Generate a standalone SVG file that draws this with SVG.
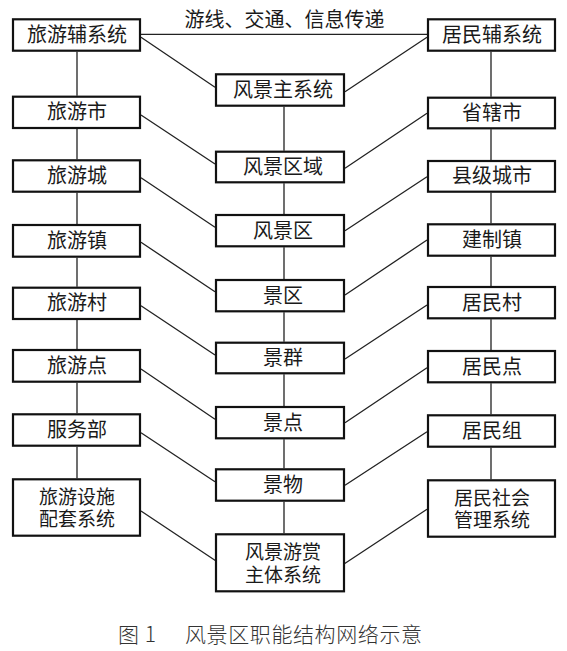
<svg xmlns="http://www.w3.org/2000/svg" width="567" height="651" viewBox="0 0 567 651">
<style>
.box{fill:#fff;stroke:#111;stroke-width:2.2}
.lbl{font-family:"Noto Sans CJK SC","Liberation Sans",sans-serif;font-size:20px;fill:#1a1a1a;text-anchor:middle}
.lb2{font-family:"Noto Sans CJK SC","Liberation Sans",sans-serif;font-size:19px;fill:#1a1a1a;text-anchor:middle}
.ln{stroke:#222;stroke-width:1.3;fill:none}
.ttl{font-family:"Noto Sans CJK SC","Liberation Sans",sans-serif;font-size:20px;fill:#1a1a1a;text-anchor:middle}
.cap{font-family:"Noto Sans CJK SC","Liberation Sans",sans-serif;font-size:21px;font-weight:300;fill:#333;letter-spacing:0.6px}
</style>
<rect width="567" height="651" fill="#fff"/>
<g id="connectors">
<path class="ln" d="M141 34.3H427"/>
<path class="ln" d="M141 37.3L215 87.3M427 37.3L345 91.7"/>
<path class="ln" d="M141 115L215 164M427 113.3L345 168.3"/>
<path class="ln" d="M141 177.7L215 227.3M427 176.7L345 230.7"/>
<path class="ln" d="M141 242.3L215 291.7M427 240L345 295"/>
<path class="ln" d="M141 305.7L215 355M427 305L345 359"/>
<path class="ln" d="M141 369L215 419.3M427 367.7L345 422.7"/>
<path class="ln" d="M141 432.7L215 481.7M427 431.7L345 485.3"/>
<path class="ln" d="M141 511L215.7 560.7M427 509.3L344 564"/>
<path class="ln" d="M77 51.7V95.7M77 129V159.3M77 192.7V224M77 257.7V286.7M77 320V349M77 382.7V413.3M77 446.7V478.3"/>
<path class="ln" d="M284 106.7V150.7M284 183.3V214M284 247.3V279M284 312.3V341.7M284 374.3V406M284 439.3V468.3M284 501.7V533.3"/>
<path class="ln" d="M491 51.7V96.7M491 129.3V160M491 192.7V223.3M491 256.7V286M491 319.3V350M491 383.3V414.3M491 447.7V479.3"/>
</g>
<text class="ttl" x="284.5" y="26.5">游线、交通、信息传递</text>
<g id="n_l1"><rect class="box" x="13" y="19.3" width="127" height="31.4"/><text class="lbl" x="77" y="42">旅游辅系统</text></g>
<g id="n_l2"><rect class="box" x="13" y="96.7" width="127" height="31.3"/><text class="lbl" x="77" y="119.4">旅游市</text></g>
<g id="n_l3"><rect class="box" x="13" y="160.3" width="127" height="31.4"/><text class="lbl" x="77" y="183">旅游城</text></g>
<g id="n_l4"><rect class="box" x="13" y="225" width="127" height="31.7"/><text class="lbl" x="77" y="247.8">旅游镇</text></g>
<g id="n_l5"><rect class="box" x="13" y="287.7" width="127" height="31.3"/><text class="lbl" x="77" y="310.4">旅游村</text></g>
<g id="n_l6"><rect class="box" x="13" y="350" width="127" height="31.7"/><text class="lbl" x="77" y="372.8">旅游点</text></g>
<g id="n_l7"><rect class="box" x="13" y="414.3" width="127" height="31.4"/><text class="lbl" x="77" y="437">服务部</text></g>
<g id="n_l8"><rect class="box" x="13" y="479.3" width="127" height="56.4"/><text class="lb2" x="77" y="503.5"><tspan x="77">旅游设施</tspan><tspan x="77" dy="22.5">配套系统</tspan></text></g>
<g id="n_c1"><rect class="box" x="216" y="74.3" width="128" height="31.4"/><text class="lbl" x="283" y="97">风景主系统</text></g>
<g id="n_c2"><rect class="box" x="216" y="151.7" width="128" height="30.6"/><text class="lbl" x="283" y="174">风景区域</text></g>
<g id="n_c3"><rect class="box" x="216" y="215" width="128" height="31.3"/><text class="lbl" x="283" y="237.7">风景区</text></g>
<g id="n_c4"><rect class="box" x="216" y="280" width="128" height="31.3"/><text class="lbl" x="283" y="302.7">景区</text></g>
<g id="n_c5"><rect class="box" x="216" y="342.7" width="128" height="30.6"/><text class="lbl" x="283" y="365">景群</text></g>
<g id="n_c6"><rect class="box" x="216" y="407" width="128" height="31.3"/><text class="lbl" x="283" y="429.7">景点</text></g>
<g id="n_c7"><rect class="box" x="216" y="469.3" width="128" height="31.4"/><text class="lbl" x="283" y="492">景物</text></g>
<g id="n_c8"><rect class="box" x="216" y="534.3" width="128" height="57"/><text class="lb2" x="283" y="559"><tspan x="283">风景游赏</tspan><tspan x="283" dy="22.5">主体系统</tspan></text></g>
<g id="n_r1"><rect class="box" x="428" y="19.3" width="127" height="31.4"/><text class="lbl" x="492" y="42">居民辅系统</text></g>
<g id="n_r2"><rect class="box" x="428" y="97.7" width="127" height="30.6"/><text class="lbl" x="492" y="120">省辖市</text></g>
<g id="n_r3"><rect class="box" x="428" y="161" width="127" height="30.7"/><text class="lbl" x="492" y="183.4">县级城市</text></g>
<g id="n_r4"><rect class="box" x="428" y="224.3" width="127" height="31.4"/><text class="lbl" x="492" y="247">建制镇</text></g>
<g id="n_r5"><rect class="box" x="428" y="287" width="127" height="31.3"/><text class="lbl" x="492" y="309.7">居民村</text></g>
<g id="n_r6"><rect class="box" x="428" y="351" width="127" height="31.3"/><text class="lbl" x="492" y="373.7">居民点</text></g>
<g id="n_r7"><rect class="box" x="428" y="415.3" width="127" height="31.4"/><text class="lbl" x="492" y="438">居民组</text></g>
<g id="n_r8"><rect class="box" x="428" y="480.3" width="127" height="56.4"/><text class="lb2" x="492" y="504.5"><tspan x="492">居民社会</tspan><tspan x="492" dy="22.5">管理系统</tspan></text></g>
<text class="cap" x="118" y="642">图 1</text>
<text class="cap" x="185" y="642">风景区职能结构网络示意</text>
</svg>
